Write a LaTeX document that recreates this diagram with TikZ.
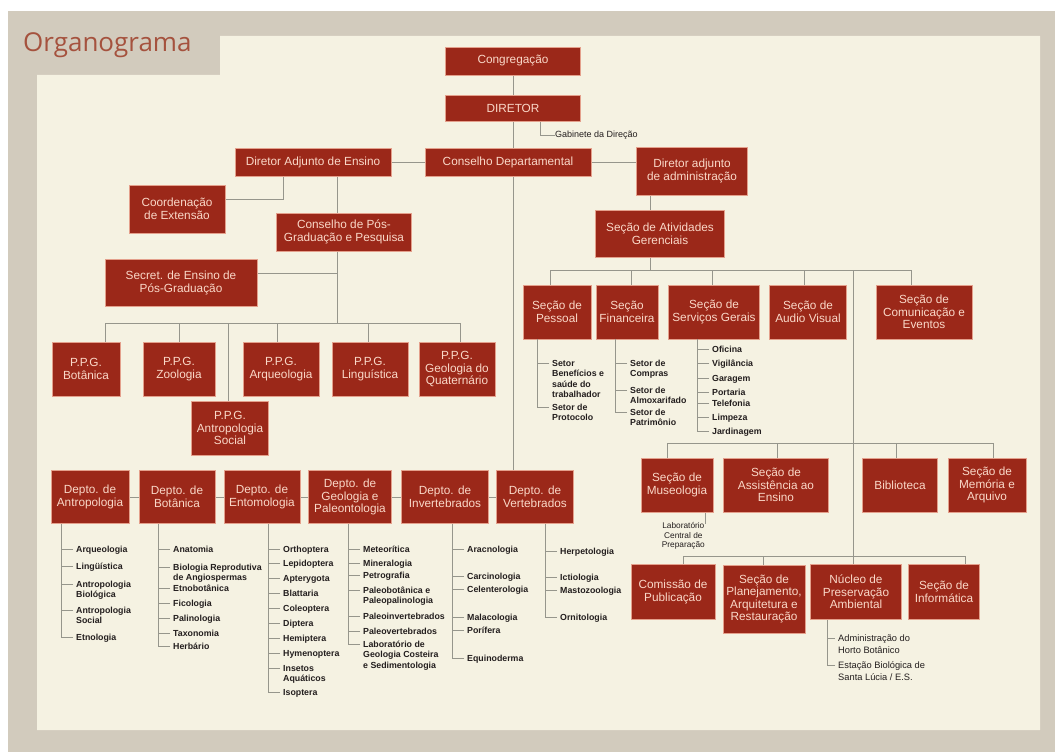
\documentclass[tikz,border=0pt]{standalone}
\usepackage{fontspec}
\setmainfont{Liberation Sans}
\newfontfamily\titlefont{Open Sans}
\usepackage{tikz}
\usetikzlibrary{calc}
\definecolor{moldura}{RGB}{210,203,189}
\definecolor{creme}{RGB}{245,242,226}
\definecolor{vermelho}{RGB}{155,40,25}
\definecolor{bordarosa}{RGB}{228,160,140}
\definecolor{textorosa}{RGB}{250,216,200}
\definecolor{cinzafio}{RGB}{150,150,140}
\definecolor{tinta}{RGB}{35,30,30}
\definecolor{titulocor}{RGB}{165,82,62}
\tikzset{
  orgbox/.style={draw=bordarosa, line width=0.7pt, fill=vermelho, text=textorosa,
    align=center, inner sep=1pt, font=\fontsize{11.8}{12.5}\selectfont},
  orgsize/.style 2 args={minimum width=#1pt, minimum height=#2pt},
  orgwire/.style={draw=cinzafio, line width=0.8pt},
  orgitem/.style={anchor=north west, align=left, inner sep=0pt, text=tinta,
    font=\bfseries\fontsize{8.8}{10.5}\selectfont},
  orgitemlight/.style={orgitem, font=\fontsize{9.3}{12}\selectfont},
  orgnote/.style={inner sep=0pt, text=tinta, align=center, font=\fontsize{9}{10}\selectfont},
  orgtitle/.style={anchor=base west, inner sep=0pt, text=titulocor, font=\titlefont\fontsize{26}{30}\selectfont},
}
\pgfdeclarelayer{fundo}
\pgfdeclarelayer{fios}
\pgfsetlayers{fundo,fios,main}
% lista de setores sob uma caixa: #1 caixa, #2 prefixo, #3 x do texto, #4 itens y/texto
\newcommand\orglista[4]{%
  \foreach \y/\txt [count=\i] in {#4}{
    \node[orgitem] (#2-\i) at (#3,\y-4.35) {\strut\txt};
    \draw[orgwire] (#2-\i.north west) ++(-3,4.35) -- ++(-12,0) coordinate (#2-k\i);
    \draw[orgwire] (#2-k\i) -- (#2-k\i |- #1.south);
  }%
}

\begin{document}
\begin{tikzpicture}[x=1pt, y=-1pt]
  \useasboundingbox (0,0) rectangle (1055,752);
  % moldura
  \begin{pgfonlayer}{fundo}
    \fill[white] (0,0) rectangle (1055,752);
    \fill[moldura] (8,11) rectangle (1055,752);
    \fill[creme] (37,75) -- (220,75) -- (220,36) -- (1040,36) -- (1040,730) -- (37,730) -- cycle;
  \end{pgfonlayer}
  \node[orgtitle] (titulo) at (23,52) {Organograma};

  % direcao
  \node[orgbox, orgsize={135}{28}] (cong) at (513,61) {Congregação};
  \node[orgbox, orgsize={135}{26}] (dir) at (513,108) {DIRETOR};
  \node[orgnote, anchor=west] (gab) at (555,135) {Gabinete da Direção};
  \node[orgbox, orgsize={156}{28}] (dae) at (313,162) {Diretor Adjunto de Ensino};
  \node[orgbox, orgsize={166}{28}] (consdep) at (508,162) {Conselho Departamental};
  \node[orgbox, orgsize={111}{48}] (diradm) at (692,171) {Diretor adjunto\\de administração};

  % ensino
  \node[orgbox, orgsize={96}{48}] (coordext) at (177,209) {Coordenação\\de Extensão};
  \node[orgbox, orgsize={135}{38}] (conspos) at (344,232) {Conselho de Pós-\\Graduação e Pesquisa};
  \node[orgbox, orgsize={152}{47}] (secret) at (181,283) {Secret. de Ensino de\\Pós-Graduação};
  \node[orgbox, orgsize={68}{54}] (ppgbot) at (86,369) {P.P.G.\\Botânica};
  \node[orgbox, orgsize={72}{54}] (ppgzoo) at (179,369) {P.P.G.\\Zoologia};
  \node[orgbox, orgsize={76}{54}] (ppgarq) at (281,369) {P.P.G.\\Arqueologia};
  \node[orgbox, orgsize={76}{54}] (ppglin) at (370,369) {P.P.G.\\Linguística};
  \node[orgbox, orgsize={76}{54}] (ppggeo) at (457,369) {P.P.G.\\Geologia do\\Quaternário};
  \node[orgbox, orgsize={77}{54}] (ppgant) at (230,428) {P.P.G.\\Antropologia\\Social};

  % departamentos
  \node[orgbox, orgsize={78}{53}] (dantr) at (90,497) {Depto. de\\Antropologia};
  \node[orgbox, orgsize={76}{53}] (dbot) at (177,497) {Depto. de\\Botânica};
  \node[orgbox, orgsize={76}{53}] (dento) at (262,497) {Depto. de\\Entomologia};
  \node[orgbox, orgsize={83}{53}] (dgeo) at (350,497) {Depto. de\\Geologia e\\Paleontologia};
  \node[orgbox, orgsize={87}{53}] (dinv) at (445,497) {Depto. de\\Invertebrados};
  \node[orgbox, orgsize={77}{53}] (dvert) at (535,497) {Depto. de\\Vertebrados};

  % administracao
  \node[orgbox, orgsize={129}{47}] (sag) at (660,234) {Seção de Atividades\\Gerenciais};
  \node[orgbox, orgsize={68}{54}] (spes) at (557,312) {Seção de\\Pessoal};
  \node[orgbox, orgsize={62}{54}] (sfin) at (627,312) {Seção\\Financeira};
  \node[orgbox, orgsize={91}{54}] (sserv) at (714,312) {Seção de\\Serviços Gerais};
  \node[orgbox, orgsize={77}{54}] (saud) at (808,312) {Seção de\\Audio Visual};
  \node[orgbox, orgsize={96}{54}] (scom) at (924,312) {Seção de\\Comunicação e\\Eventos};
  \node[orgbox, orgsize={72}{54}] (smus) at (677,485) {Seção de\\Museologia};
  \node[orgbox, orgsize={105}{54}] (sass) at (776,485) {Seção de\\Assistência ao\\Ensino};
  \node[orgbox, orgsize={75}{54}] (sbib) at (900,485) {Biblioteca};
  \node[orgbox, orgsize={78}{54}] (smem) at (987,485) {Seção de\\Memória e\\Arquivo};
  \node[orgnote, anchor=north east, font=\fontsize{8.3}{9.8}\selectfont] (lab) at (705,522) {Laboratório\\Central de\\Preparação};
  \node[orgbox, orgsize={84}{55}] (scomis) at (673,592) {Comissão de\\Publicação};
  \node[orgbox, orgsize={82}{68}] (splan) at (764,599) {Seção de\\Planejamento,\\Arquitetura e\\Restauração};
  \node[orgbox, orgsize={91}{55}] (snucl) at (856,592) {Núcleo de\\Preservação\\Ambiental};
  \node[orgbox, orgsize={71}{55}] (sinf) at (944,592) {Seção de\\Informática};

  % ligacoes
  \begin{pgfonlayer}{fios}
    \draw[orgwire] (cong) -- (dir);
    \draw[orgwire] (dir.south) -- (dir.south |- dvert.north);
    \draw[orgwire] (gab.west) -- ++(-15,0) coordinate (gabk) -- (gabk |- dir.south);
    \draw[orgwire] (dae.east) -- (consdep.west);
    \draw[orgwire] (consdep.east) -- (consdep.east -| diradm.west);
    \coordinate (extk) at (283,199);
    \draw[orgwire] (dae.south -| extk) -- (extk) -- (extk -| coordext.east);
    \coordinate (ppgk) at (337,323);
    \draw[orgwire] (dae.south -| ppgk) -- (ppgk);
    \draw[orgwire] (ppgk |- 0,273) -- (secret.east |- 0,273);
    \draw[orgwire] (105,323) -- (460,323);
    \foreach \x/\n in {105/ppgbot, 179/ppgzoo, 228/ppgant, 277/ppgarq, 368/ppglin, 460/ppggeo}
      \draw[orgwire] (\x,323) -- (\x,323 |- \n.north);
    \draw[orgwire] (dantr) -- (dvert);
    \coordinate (admk) at (650,270);
    \draw[orgwire] (diradm.south -| admk) -- (admk);
    \draw[orgwire] (550,270) -- (911,270);
    \foreach \x/\n in {550/spes, 631/sfin, 712/sserv, 804/saud, 911/scom}
      \draw[orgwire] (\x,270) -- (\x,270 |- \n.north);
    \draw[orgwire] (853,270) -- (853,270 |- snucl.north);
    \draw[orgwire] (667,443) -- (993,443);
    \foreach \x/\n in {667/smus, 777/sass, 896/sbib, 993/smem}
      \draw[orgwire] (\x,443) -- (\x,443 |- \n.north);
    \draw[orgwire] (683,556) -- (965,556);
    \foreach \x/\n in {683/scomis, 763/splan, 965/sinf}
      \draw[orgwire] (\x,556) -- (\x,556 |- \n.north);
    \draw[orgwire] (smus.south -| lab.north east) -- ++(0,12);
  \end{pgfonlayer}

  % setores
  \orglista{dantr}{antr}{76}{549/Arqueologia, 566/Lingüística, 584/{Antropologia\\Biológica},
    610/{Antropologia\\Social}, 637/Etnologia}
  \orglista{dbot}{bot}{173}{549/Anatomia, 567/{Biologia Reprodutiva\\de Angiospermas}, 588/Etnobotânica,
    603/Ficologia, 618/Palinologia, 633/Taxonomia, 646/Herbário}
  \orglista{dento}{ento}{283}{549/Orthoptera, 563/Lepidoptera, 578/Apterygota, 593/Blattaria,
    608/Coleoptera, 623/Diptera, 638/Hemiptera, 653/Hymenoptera, 668/{Insetos\\Aquáticos}, 692/Isoptera}
  \orglista{dgeo}{geo}{363}{549/Meteorítica, 563/Mineralogia, 575/Petrografia,
    590/{Paleobotânica e\\Paleopalinologia}, 616/Paleoinvertebrados, 631/Paleovertebrados,
    644/{Laboratório de\\Geologia Costeira\\e Sedimentologia}}
  \orglista{dinv}{inv}{467}{549/Aracnologia, 576/Carcinologia, 589/Celenterologia,
    617/Malacologia, 630/Porífera, 658/Equinoderma}
  \orglista{dvert}{vert}{560}{551/Herpetologia, 577/Ictiologia, 590/Mastozoologia, 617/Ornitologia}
  \orglista{spes}{pes}{552}{363/{Setor\\Benefícios e\\saúde do\\trabalhador}, 407/{Setor de\\Protocolo}}
  \orglista{sfin}{fin}{630}{363/{Setor de\\Compras}, 390/{Setor de\\Almoxarifado}, 412/{Setor de\\Patrimônio}}
  \orglista{sserv}{serv}{712}{349/Oficina, 363/Vigilância, 378/Garagem, 392/Portaria,
    403/Telefonia, 417/Limpeza, 431/Jardinagem}
  \foreach \y/\txt [count=\i] in {638/{Administração do\\Horto Botânico}, 665/{Estação Biológica de\\Santa Lúcia / E.S.}}{
    \node[orgitemlight] (nuc-\i) at (838,\y-5.4) {\strut\txt};
    \draw[orgwire] (nuc-\i.north west) ++(-3,5.4) -- ++(-8,0) coordinate (nuc-k\i);
    \draw[orgwire] (nuc-k\i) -- (nuc-k\i |- snucl.south);
  }
\end{tikzpicture}
\end{document}
